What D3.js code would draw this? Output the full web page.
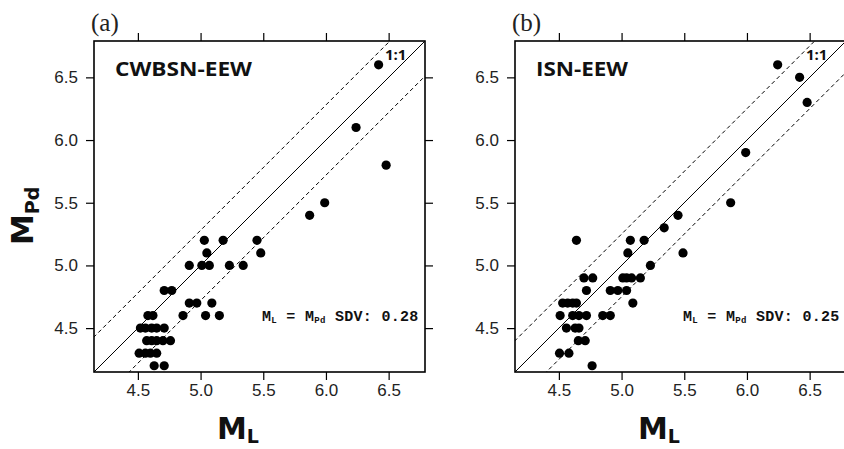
<!DOCTYPE html>
<html>
<head>
<meta charset="utf-8">
<script src="https://cdn.jsdelivr.net/npm/d3@7"></script>
<style>
  body { margin: 0; background: #fff; }
  svg { display: block; }
</style>
</head>
<body>
<svg id="chart" width="844" height="449"></svg>
<script>
// values
var ticks = [4.5, 5.0, 5.5, 6.0, 6.5];
var domainMag = [4.15, 6.79];

var cwbML  = [6.42, 6.24, 6.48, 5.99, 5.87, 5.45, 5.48, 5.18, 5.03, 5.05,
              4.91, 5.01, 5.07, 5.23, 5.34, 4.71, 4.77, 4.91, 4.97, 5.09,
              4.58, 4.62, 4.86, 5.04, 5.15,
              4.52, 4.56, 4.61, 4.65, 4.71,
              4.57, 4.61, 4.65, 4.70, 4.76,
              4.51, 4.56, 4.60, 4.65,
              4.63, 4.71];
var cwbMPd = [6.6, 6.1, 5.8, 5.5, 5.4, 5.2, 5.1, 5.2, 5.2, 5.1,
              5.0, 5.0, 5.0, 5.0, 5.0, 4.8, 4.8, 4.7, 4.7, 4.7,
              4.6, 4.6, 4.6, 4.6, 4.6,
              4.5, 4.5, 4.5, 4.5, 4.5,
              4.4, 4.4, 4.4, 4.4, 4.4,
              4.3, 4.3, 4.3, 4.3,
              4.2, 4.2];

var isnML  = [6.245, 6.42, 6.48, 5.99, 5.87, 5.45, 5.34, 5.49, 5.23, 5.18,
              5.07, 4.64, 5.05,
              4.70, 4.77, 5.01, 5.04, 5.08, 5.15,
              4.72, 4.91, 4.97, 5.04,
              4.53, 4.57, 4.61, 4.64, 5.09,
              4.51, 4.61, 4.66, 4.72, 4.85, 4.91,
              4.56, 4.63, 4.66,
              4.655, 4.71,
              4.505, 4.58,
              4.765];
var isnMPd = [6.6, 6.5, 6.3, 5.9, 5.5, 5.4, 5.3, 5.1, 5.0, 5.2,
              5.2, 5.2, 5.1,
              4.9, 4.9, 4.9, 4.9, 4.9, 4.9,
              4.8, 4.8, 4.8, 4.8,
              4.7, 4.7, 4.7, 4.7, 4.7,
              4.6, 4.6, 4.6, 4.6, 4.6, 4.6,
              4.5, 4.5, 4.5,
              4.4, 4.4,
              4.3, 4.3,
              4.2];

var panels = [
  {tag: "(a)", name: "CWBSN-EEW", nameW: 137, sdv: 0.28, xs: cwbML, ys: cwbMPd, left: 94},
  {tag: "(b)", name: "ISN-EEW",   nameW: 92,  sdv: 0.25, xs: isnML, ys: isnMPd, left: 515}
];

var svg = d3.select("#chart");
var plotTop = 41, size = 331;
var tickLen = 8;

panels.forEach(function(p, i) {
  var x = d3.scaleLinear().domain(domainMag).range([p.left, p.left + size]);
  var y = d3.scaleLinear().domain(domainMag).range([plotTop + size, plotTop]);
  var g = svg.append("g");

  var clipId = "clip" + i;
  g.append("clipPath").attr("id", clipId).append("rect")
    .attr("x", p.left).attr("y", plotTop).attr("width", size).attr("height", size);

  // reference lines: 1:1 and +/- SDV
  var lines = g.append("g").attr("clip-path", "url(#" + clipId + ")");
  [[0, null], [p.sdv, "4,3"], [-p.sdv, "4,3"]].forEach(function(l) {
    lines.append("line")
      .attr("x1", x(3)).attr("y1", y(3 + l[0]))
      .attr("x2", x(8)).attr("y2", y(8 + l[0]))
      .attr("stroke", "#000").attr("stroke-width", 1)
      .attr("stroke-dasharray", l[1]);
  });

  // points
  g.append("g").selectAll("circle")
    .data(p.xs.map(function(v, k) { return [v, p.ys[k]]; }))
    .enter().append("circle")
    .attr("cx", d => x(d[0])).attr("cy", d => y(d[1]))
    .attr("r", 4.6).attr("fill", "#000");

  // axes on all four sides, labels only on bottom and left
  g.append("g").attr("transform", `translate(0,${plotTop + size})`)
    .call(d3.axisBottom(x).tickValues(ticks).tickFormat(d3.format(".1f")).tickSize(tickLen).tickSizeOuter(0).tickPadding(4));
  g.append("g").attr("transform", `translate(${p.left},0)`)
    .call(d3.axisLeft(y).tickValues(ticks).tickFormat(d3.format(".1f")).tickSize(tickLen).tickSizeOuter(0).tickPadding(8));
  g.append("g").attr("transform", `translate(0,${plotTop})`)
    .call(d3.axisTop(x).tickValues(ticks).tickFormat("").tickSize(tickLen).tickSizeOuter(0));
  g.append("g").attr("transform", `translate(${p.left + size},0)`)
    .call(d3.axisRight(y).tickValues(ticks).tickFormat("").tickSize(tickLen).tickSizeOuter(0));
  g.selectAll(".domain").remove();
  g.selectAll(".tick line").attr("stroke", "#000").attr("stroke-width", 1.2);
  g.selectAll(".tick text").attr("fill", "#222")
    .style("font-family", "Liberation Sans, Arial, sans-serif").style("font-size", "17px");

  g.append("rect").attr("x", p.left).attr("y", plotTop).attr("width", size).attr("height", size)
    .attr("fill", "none").attr("stroke", "#000").attr("stroke-width", 1.6);

  // texts
  g.append("text").attr("x", p.left - 3).attr("y", 31).text(p.tag)
    .style("font-family", "Liberation Serif, Times New Roman, serif").style("font-size", "25px").attr("fill", "#222");
  g.append("text").attr("x", p.left + 21).attr("y", 76).text(p.name)
    .attr("textLength", p.nameW).attr("lengthAdjust", "spacingAndGlyphs")
    .style("font-family", "Open Sans, sans-serif").style("font-weight", "bold")
    .style("font-size", "20px").attr("fill", "#111");
  g.append("text").attr("x", x(6.47)).attr("y", 60).text("1:1")
    .style("font-family", "Open Sans, sans-serif").style("font-weight", "bold")
    .style("font-size", "15px").attr("fill", "#111");

  var sd = g.append("text").attr("x", p.left + 168).attr("y", 321)
    .style("font-family", "Liberation Mono, Courier New, monospace").style("font-weight", "bold")
    .style("font-size", "15px").style("letter-spacing", "0.3px").attr("fill", "#111");
  sd.append("tspan").text("M");
  sd.append("tspan").text("L").style("font-size", "9px").attr("dy", 2);
  sd.append("tspan").text(" = M").attr("dy", -2);
  sd.append("tspan").text("Pd").style("font-size", "9px").attr("dy", 2);
  sd.append("tspan").text(" SDV:  " + p.sdv.toFixed(2)).attr("dy", -2);

  // x title
  var xt = g.append("text").attr("x", p.left + 123).attr("y", 439)
    .style("font-family", "DejaVu Sans, sans-serif").style("font-weight", "bold")
    .style("font-size", "30px").attr("fill", "#111");
  xt.append("tspan").text("M");
  xt.append("tspan").text("L").style("font-size", "19px").attr("dy", 4);
});

// y title (left panel only)
var yt = svg.append("text").attr("transform", "translate(33,245) rotate(-90)")
  .style("font-family", "DejaVu Sans, sans-serif").style("font-weight", "bold")
  .style("font-size", "31px").attr("fill", "#111");
yt.append("tspan").text("M");
yt.append("tspan").text("Pd").style("font-size", "19px").attr("dy", 6);
</script>
</body>
</html>
